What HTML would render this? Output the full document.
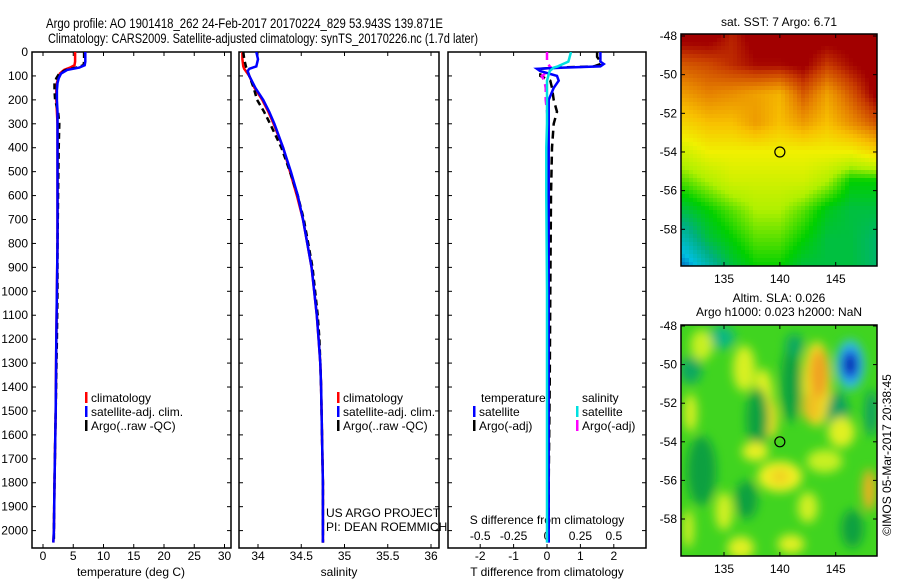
<!DOCTYPE html>
<html><head><meta charset="utf-8"><style>
html,body{margin:0;padding:0;background:#fff}
svg{display:block;font-family:"Liberation Sans",sans-serif}
text{fill:#000}
</style></head><body>
<svg id="fig" width="900" height="580" viewBox="0 0 900 580">
<defs>
<clipPath id="c1"><rect x="32" y="52" width="199" height="496"/></clipPath>
<clipPath id="c2"><rect x="239" y="52" width="200" height="496"/></clipPath>
<clipPath id="c3"><rect x="448" y="52" width="198" height="496"/></clipPath>
<clipPath id="cm1"><rect x="681" y="34" width="196" height="232"/></clipPath>
<clipPath id="cm2"><rect x="681" y="325" width="196" height="231"/></clipPath>
<filter id="blur" x="-20%" y="-20%" width="140%" height="140%"><feGaussianBlur stdDeviation="5"/></filter>
</defs>
<text x="46" y="28" font-size="14" textLength="397" lengthAdjust="spacingAndGlyphs">Argo profile: AO 1901418_262 24-Feb-2017 20170224_829 53.943S 139.871E</text>
<text x="48" y="43" font-size="14" textLength="430" lengthAdjust="spacingAndGlyphs">Climatology: CARS2009. Satellite-adjusted climatology: synTS_20170226.nc (1.7d later)</text>
<g id="g"></g>
</svg>
<script>
// ---- profile data ----
const tDepth=[0,20,40,55,65,75,90,110,130,160,200,250,300,400,600,800,1000,1200,1500,1800,2000,2050];
const tClim=[5.3,5.3,5.3,5.2,4.5,3.5,2.8,2.5,2.3,2.2,2.2,2.3,2.4,2.4,2.4,2.4,2.3,2.2,2.1,1.9,1.8,1.7];
const tSat=[7.0,7.0,7.0,6.9,6.0,4.0,3.0,2.6,2.4,2.3,2.3,2.4,2.4,2.4,2.4,2.4,2.3,2.2,2.1,1.9,1.8,1.7];
const tArgo=[6.8,6.8,6.8,6.7,5.5,3.8,2.7,2.2,1.9,1.9,2.0,2.5,2.7,2.6,2.5,2.4,2.4,2.3,2.1,1.9,1.8,1.8];
const sDepth=[0,30,60,70,80,100,150,200,250,300,400,500,600,700,800,900,1000,1100,1200,1300,1400,1600,1800,2050];
const sClim=[33.82,33.82,33.83,33.84,33.86,33.90,33.96,34.05,34.12,34.18,34.29,34.37,34.45,34.52,34.57,34.62,34.65,34.68,34.70,34.72,34.73,34.74,34.75,34.75];
const sSat=[33.98,34.0,33.98,33.9,33.88,33.9,33.97,34.06,34.13,34.19,34.29,34.38,34.46,34.52,34.57,34.62,34.65,34.68,34.70,34.72,34.73,34.74,34.75,34.75];
const sArgo=[33.83,33.84,33.86,33.87,33.88,33.90,33.95,33.99,34.07,34.14,34.27,34.37,34.46,34.53,34.58,34.63,34.66,34.69,34.71,34.72,34.73,34.74,34.75,34.75];
const dDepth=[0,20,40,50,60,65,70,80,100,120,150,200,250,300,400,600,1000,1400,1800,2000,2050];
const dTSat=[1.6,1.6,1.6,1.7,1.6,0.5,-0.3,-0.2,0.3,0.35,0.2,0.05,0.05,0.05,0.05,0.05,0.05,0.05,0.05,0.05,0.05];
const dTArgo=[1.5,1.5,1.6,1.6,1.4,0.3,-0.2,-0.2,-0.2,0.1,0.15,0.2,0.3,0.2,0.15,0.12,0.1,0.08,0.05,0.05,0.05];
const dSSat=[0.18,0.17,0.16,0.12,0.08,0.05,0.04,0.02,0.01,0,0,0,0,0,-0.005,-0.005,0,0,0,0,0];
const dSArgo=[0,0,0,0.01,0.02,0.03,0.03,0.02,-0.04,-0.02,-0.01,-0.01,0,0.01,0.01,0.01,0.01,0.01,0.01,0.01,0.01];
const depthTicks=[0,100,200,300,400,500,600,700,800,900,1000,1100,1200,1300,1400,1500,1600,1700,1800,1900,2000];
const tTicks=[0,5,10,15,20,25,30];
const sTicks=[34,34.5,35,35.5,36];
const dTicks=[-2,-1,0,1,2];
const dSTickLabels=["-0.5","-0.25","0","0.25","0.5"];
// ---- SST map grid (rows = lat -48..-60 step 1.5, cols = lon 131.5..148.5) ----
const sstLat=[-48,-49.5,-51,-52.5,-54,-55.5,-57,-58.5,-60];
const sstLon=[131.5,133.6,135.8,137.9,140,142.1,144.3,146.4,148.5];
const sstGrid=[
[11,11,10.3,11,11,11,11,11,11],
[9.6,9.8,10.2,10.6,10.6,10.8,10,10.6,11],
[8.6,9,8.8,8.5,8.2,9.6,8.5,9.6,10.8],
[7.6,8,8,8.6,8,8.6,8,8.8,9.6],
[6.5,7,7,7,7,7,7,7,7.5],
[5.5,6,6.5,6.5,6.5,6.5,6,5,5],
[4.5,5,5.5,6,6,5.5,4.8,4.5,4.5],
[3.5,4.5,5,5.5,5.5,5,4.5,4.5,4.2],
[2.5,3.5,4.5,5,5,4.5,4.5,4.5,4.2]];
// ---- SLA blobs [lon, lat, rxDeg, ryDeg, colour] ----
const slaBlobs=[
[134.8,-48.6,1.2,0.6,"#10b880"],[132,-50.3,1,0.7,"#10a860"],[133,-49,1,0.8,"#c8f020"],
[136.8,-50.2,1,1.2,"#d8f020"],[138.5,-51.8,0.9,1.6,"#e0f020"],[139.2,-52.8,0.6,1,"#f0e020"],
[138,-52.8,1,1.6,"#10a040"],[141,-51,0.9,2,"#10a040"],[141.3,-49,0.8,0.6,"#10a860"],
[143.3,-51,1.3,2.2,"#f0e020"],[143.5,-50.5,0.8,1.3,"#f0a020"],[142.8,-52.2,0.8,0.8,"#f0c020"],
[146.3,-50,1.3,1.3,"#30c0e0"],[146.3,-50,0.8,0.8,"#1040e0"],[146.3,-50,0.4,0.4,"#001090"],
[145.2,-52.7,1,1.3,"#10a060"],[148.2,-52.5,0.6,1.2,"#10a060"],[145.5,-53.5,1.2,0.8,"#e0f020"],
[132,-52.5,0.6,1,"#d8f020"],[133,-55.5,1.3,1.8,"#10a040"],[137,-57,1,1,"#10a040"],
[140,-55.8,2,0.8,"#f0f020"],[140,-55.8,0.8,0.4,"#f0d020"],[137.8,-54.5,1.2,0.5,"#e8f020"],
[148,-56.5,0.6,1.1,"#f0b020"],[135,-57.6,0.8,1,"#d0f020"],[136.5,-59.5,1.2,0.6,"#e0f020"],
[142.5,-57.4,0.9,0.8,"#d0f020"],[144,-55,1.6,0.6,"#c8f020"],[131.8,-58.5,0.5,1,"#d0f020"],
[146.5,-58.5,1,1,"#10a040"],[141,-59.3,1.2,0.5,"#e0f020"]];

const NS="http://www.w3.org/2000/svg";
const G=document.getElementById('g');
function mk(tag,attrs,parent,txt){const e=document.createElementNS(NS,tag);for(const k in attrs)e.setAttribute(k,attrs[k]);if(txt!==undefined)e.textContent=txt;(parent||G).appendChild(e);return e;}
const yD=d=>52+d*0.2393;
const xT=v=>43+v*6.05;
const xS=v=>258+(v-34)*86.5;
const xD=v=>547+v*33.4;

function frame(x,y,w,h,name){const r=mk('rect',{x:x,y:y,width:w,height:h,fill:'none',stroke:'#000','stroke-width':1.5});

}
function line(depths,vals,xf,color,clip,name,dash,w){
 const pts=depths.map((d,i)=>xf(vals[i]).toFixed(1)+','+yD(d).toFixed(1)).join(' ');
 const p=mk('polyline',{points:pts,fill:'none',stroke:color,'stroke-width':w||2.5,'clip-path':'url(#'+clip+')'});
 if(dash)p.setAttribute('stroke-dasharray',dash);
 
 
}
const panels=[[32,231,'c1'],[239,439,'c2'],[448,646,'c3']];
panels.forEach((p,i)=>{
 frame(p[0],52,p[1]-p[0],496,'panel-'+(i+1)+'-frame');
 depthTicks.forEach(d=>{mk('line',{x1:p[0],x2:p[0]+4,y1:yD(d),y2:yD(d),stroke:'#000'});mk('line',{x1:p[1]-4,x2:p[1],y1:yD(d),y2:yD(d),stroke:'#000'});});
});
depthTicks.forEach(d=>{const t=mk('text',{x:28,y:yD(d)+4,'font-size':12,'text-anchor':'end'},G,String(d));
 
 });
function xticks(ticks,xf,labels,name){ticks.forEach((v,i)=>{const x=xf(v);
 mk('line',{x1:x,x2:x,y1:52,y2:56,stroke:'#000'});mk('line',{x1:x,x2:x,y1:544,y2:548,stroke:'#000'});
 const t=mk('text',{x:x,y:560,'font-size':12,'text-anchor':'middle'},G,labels?labels[i]:String(v));
 
 });}
xticks(tTicks,xT,null,'temperature-tick-label');
xticks(sTicks,xS,null,'salinity-tick-label');
xticks(dTicks,xD,null,'t-diff-tick-label');
dTicks.forEach((v,i)=>{const t=mk('text',{x:xD(v),y:540,'font-size':12,'text-anchor':'middle'},G,dSTickLabels[i]);
 
 });
function txt(x,y,s,name,anchor,size){const t=mk('text',{x:x,y:y,'font-size':size||12,'text-anchor':anchor||'start'},G,s);
 
 return t;}
txt(131,576,'temperature (deg C)','x-axis-title-temperature','middle');
txt(339,576,'salinity','x-axis-title-salinity','middle');
txt(547,576,'T difference from climatology','x-axis-title-t-diff','middle');
txt(547,524,'S difference from climatology','s-diff-axis-title','middle');
txt(326,517,'US ARGO PROJECT','credit-project');
txt(326,531,'PI: DEAN ROEMMICH','credit-pi');
line(tDepth,tClim,xT,'#ff0000','c1','temperature-climatology-line');
line(tDepth,tArgo,xT,'#000000','c1','temperature-argo-line','6,4');
line(tDepth,tSat,xT,'#0000ff','c1','temperature-satellite-line');
line(sDepth,sClim,xS,'#ff0000','c2','salinity-climatology-line');
line(sDepth,sArgo,xS,'#000000','c2','salinity-argo-line','6,4');
line(sDepth,sSat,xS,'#0000ff','c2','salinity-satellite-line');
line(dDepth,dTArgo,xD,'#000000','c3','t-diff-argo-line','8,5');
line(dDepth,dSArgo,v=>xD(v*4),'#ff00ff','c3','s-diff-argo-line','8,5');
line(dDepth,dTSat,xD,'#0000ff','c3','t-diff-satellite-line');
line(dDepth,dSSat,v=>xD(v*4),'#00e0e0','c3','s-diff-satellite-line');
function leg(x,y,color,label,name){const r=mk('rect',{x:x,y:y-10,width:2.5,height:11,fill:color});
 
 
 txt(x+6,y,label,name);}
[[85,'climatology','#ff0000'],[85,'satellite-adj. clim.','#0000ff'],[85,'Argo(..raw -QC)','#000']].forEach((l,i)=>leg(l[0],402+i*14,l[2],l[1],'legend-temp-panel-'+i));
[[337,'climatology','#ff0000'],[337,'satellite-adj. clim.','#0000ff'],[337,'Argo(..raw -QC)','#000']].forEach((l,i)=>leg(l[0],402+i*14,l[2],l[1],'legend-sal-panel-'+i));
txt(481,402,'temperature','legend-header-temperature');
txt(582,402,'salinity','legend-header-salinity');
leg(473,416,'#0000ff','satellite','legend-t-satellite');
leg(473,430,'#000','Argo(-adj)','legend-t-argo');
leg(576,416,'#00e0e0','satellite','legend-s-satellite');
leg(576,430,'#ff00ff','Argo(-adj)','legend-s-argo');

const mx=v=>681+(v-131.15)*11.17;
const my1=v=>36+(-48-v)*19.33;
const my2=v=>326+(-48-v)*19.3;
const stops=[[2,[0,32,160]],[3,[0,190,224]],[4,[0,176,128]],[5,[0,208,0]],[6,[176,240,0]],[7,[240,240,0]],[8,[248,192,0]],[9,[230,130,0]],[10,[200,60,0]],[10.7,[162,0,0]]];
function cmap(v){if(v<=stops[0][0])return stops[0][1];for(let i=1;i<stops.length;i++){if(v<=stops[i][0]){const a=stops[i-1],b=stops[i],t=(v-a[0])/(b[0]-a[0]);return a[1].map((c,k)=>Math.round(c+(b[1][k]-c)*t));}}return stops[stops.length-1][1];}
function interp(lon,lat){let r=(-48-lat)/1.5;r=Math.max(0,Math.min(7.999,r));let c=(lon-131.5)/((148.5-131.5)/8);c=Math.max(0,Math.min(7.999,c));
 const r0=Math.floor(r),c0=Math.floor(c),fr=r-r0,fc=c-c0;
 return sstGrid[r0][c0]*(1-fr)*(1-fc)+sstGrid[r0][c0+1]*(1-fr)*fc+sstGrid[r0+1][c0]*fr*(1-fc)+sstGrid[r0+1][c0+1]*fr*fc;}
const mg1=mk('g',{'clip-path':'url(#cm1)'});


const cell=4;
for(let y=34;y<266;y+=cell){for(let x=681;x<877;x+=cell){const lon=131.15+(x+2-681)/11.17,lat=-48-(y+2-36)/19.33;const c=cmap(interp(lon,lat));
 mk('rect',{x:x,y:y,width:cell,height:cell,fill:'rgb('+c.join(',')+')'},mg1);}}
const mg2=mk('g',{'clip-path':'url(#cm2)'});


mk('rect',{x:681,y:325,width:196,height:231,fill:'#40d420'},mg2);
const bg=mk('g',{filter:'url(#blur)'},mg2);
slaBlobs.forEach(b=>{const e=mk('ellipse',{cx:mx(b[0]),cy:my2(b[1]),rx:b[2]*11.17,ry:b[3]*19.3,fill:b[4]},bg);
 
 });
function mapAxes(top,bot,myf,name){
 frame(681,top,196,bot-top,name+'-frame');
 [-48,-50,-52,-54,-56,-58].forEach(l=>{const y=myf(l);mk('line',{x1:681,x2:685,y1:y,y2:y,stroke:'#000'});mk('line',{x1:873,x2:877,y1:y,y2:y,stroke:'#000'});
  txt(677,y+4,String(l),name+'-lat-label','end');});
 [135,140,145].forEach(l=>{const x=mx(l);mk('line',{x1:x,x2:x,y1:top,y2:top+4,stroke:'#000'});mk('line',{x1:x,x2:x,y1:bot-4,y2:bot,stroke:'#000'});
  txt(x,bot+17,String(l),name+'-lon-label','middle');});
 const c=mk('circle',{cx:mx(140),cy:myf(-54),r:5,fill:'none',stroke:'#000','stroke-width':1.2});
 
 
}
mapAxes(34,266,my1,'sst-map');
mapAxes(325,556,my2,'sla-map');
txt(779,26,'sat. SST: 7 Argo: 6.71','sst-map-title','middle');
txt(779,302,'Altim. SLA: 0.026','sla-map-title-1','middle');
txt(779,316,'Argo h1000: 0.023 h2000: NaN','sla-map-title-2','middle');
const im=txt(0,0,'©IMOS 05-Mar-2017 20:38:45','imos-timestamp','middle');
im.setAttribute('transform','translate(891,455) rotate(-90)');
</script>
</body></html>
